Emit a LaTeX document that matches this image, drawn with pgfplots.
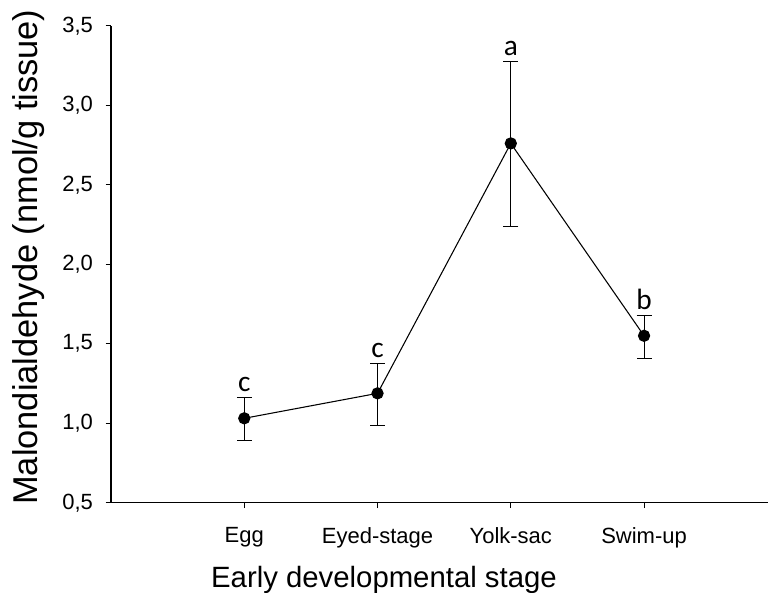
\documentclass[border=0pt]{standalone}
\usepackage{pgfplots}
\pgfplotsset{compat=1.18}
\usepackage{fontspec}
\setmainfont{Liberation Sans}
\newfontfamily\letterfont{Carlito}
\begin{document}
\begin{tikzpicture}
  % MDA by early developmental stage, mean +- error, letters = groups
  \begin{axis}[
      scale only axis,
      width=492.75pt,
      height=357.75pt,
      xmin=0, xmax=4.93,
      ymin=0.5, ymax=3.5,
      axis lines=left,
      axis line style={-, line width=0.9pt},
      tick align=outside,
      major tick length=4pt,
      tick style={black, line width=0.8pt},
      xtick={1,2,3,4},
      xticklabels={Egg, Eyed-stage, Yolk-sac, Swim-up},
      ytick={0.5,1.0,...,3.5},
      y tick label style={/pgf/number format/fixed,
        /pgf/number format/fixed zerofill,
        /pgf/number format/precision=1,
        /pgf/number format/use comma, xshift=-6pt},
      /pgf/number format/assume math mode=true,
      tick label style={font=\fontsize{16.5}{18}\selectfont},
      x tick label style={yshift=-11pt},
      xlabel={Early developmental stage},
      ylabel={Malondialdehyde (nmol/g tissue)},
      xlabel style={font=\fontsize{22}{26}\selectfont,
        at={(axis description cs:0.4155,-0.162)}, anchor=center},
      ylabel style={font=\fontsize{25.8}{30}\selectfont,
        at={(axis description cs:-0.125,0.515)}, anchor=center},
      clip=false,
    ]
    \addplot[black, line width=0.8pt, mark=*, mark size=4.2pt,
      error bars/.cd, y dir=both, y explicit,
      error mark options={rotate=90, mark size=5.6pt, line width=0.8pt},
      error bar style={line width=0.8pt}]
      table[x=x, y=y, y error plus=ep, y error minus=em] {
        x y     ep    em
        1 1.031 0.130 0.141
        2 1.188 0.189 0.204
        3 2.760 0.514 0.524
        4 1.550 0.130 0.144
      };
    \node[font=\letterfont\fontsize{22}{26}\selectfont, anchor=south, inner sep=0pt, yshift=4pt]
      at (axis cs:1,1.161) {c};
    \node[font=\letterfont\fontsize{22}{26}\selectfont, anchor=south, inner sep=0pt, yshift=4pt]
      at (axis cs:2,1.377) {c};
    \node[font=\letterfont\fontsize{22}{26}\selectfont, anchor=south, inner sep=0pt, yshift=4pt]
      at (axis cs:3,3.274) {a};
    \node[font=\letterfont\fontsize{22}{26}\selectfont, anchor=south, inner sep=0pt, yshift=4pt]
      at (axis cs:4,1.680) {b};
  \end{axis}
  \pgfresetboundingbox
  \useasboundingbox ([shift={(-83.25pt,-67.5pt)}]current axis.south west)
    rectangle ([shift={(0pt,19.3pt)}]current axis.north east);
\end{tikzpicture}
\end{document}
